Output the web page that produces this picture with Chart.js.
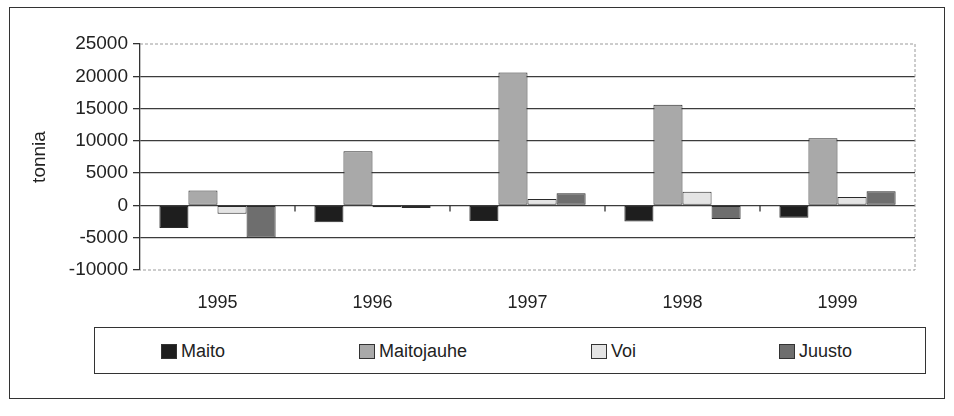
<!DOCTYPE html>
<html>
<head>
<meta charset="utf-8">
<script src="https://cdn.jsdelivr.net/npm/chart.js@4/dist/chart.umd.min.js"></script>
<style>
  html, body { margin: 0; padding: 0; background: #fff; }
  #wrap { position: relative; width: 954px; height: 416px; overflow: hidden; }
  #frame { position: absolute; left: 9px; top: 7px; width: 936px; height: 392px; border: 1.5px solid #333; box-sizing: border-box; }
  #chart { position: absolute; left: 0; top: 0; }
  #legend {
    position: absolute; left: 94px; top: 327px; width: 832px; height: 47px;
    border: 1.5px solid #333; box-sizing: border-box;
    font-family: "Liberation Sans", Arial, sans-serif; font-size: 18px; color: #222;
  }
  .item { position: absolute; top: 13px; display: flex; align-items: center; }
  .sw { width: 14px; height: 13px; border: 1px solid #333; margin-right: 4px; }
</style>
</head>
<body>
<div id="wrap">
  <div id="frame"></div>
  <canvas id="chart" width="954" height="326"></canvas>
  <div id="legend"></div>
</div>
<script>
const years = ['1995', '1996', '1997', '1998', '1999'];
const seriesNames = ['Maito', 'Maitojauhe', 'Voi', 'Juusto'];
const maito = [-3500, -2600, -2400, -2500, -1900];
const maitojauhe = [2300, 8400, 20600, 15600, 10400];
const voi = [-1300, -300, 1000, 2100, 1300];
const juusto = [-5000, -400, 1900, -2100, 2200];
const yTicks = [25000, 20000, 15000, 10000, 5000, 0, -5000, -10000];

const fills = ['#1e1e1e', '#a9a9a9', '#e4e4e4', '#6e6e6e'];
const legendX = [66, 264, 496, 684]; // left offsets of legend items inside the box
const font = '"Liberation Sans", Arial, sans-serif';

// dashed plot-area border + little ticks on the zero line between categories
const plotFrame = {
    id: 'plotFrame',
    beforeDatasetsDraw(chart) {
        const { ctx, chartArea: a, scales } = chart;
        ctx.save();
        ctx.strokeStyle = '#9a9a9a';
        ctx.lineWidth = 1;
        ctx.setLineDash([3, 2]);
        ctx.beginPath();
        ctx.moveTo(a.left, a.top); ctx.lineTo(a.right, a.top);
        ctx.lineTo(a.right, a.bottom); ctx.lineTo(a.left, a.bottom);
        ctx.stroke();
        ctx.setLineDash([]);
        const y0 = scales.y.getPixelForValue(0);
        ctx.strokeStyle = '#333';
        ctx.lineWidth = 1.3;
        ctx.beginPath();
        for (let i = 1; i < years.length; i++) {
            const x = (scales.x.getPixelForTick(i - 1) + scales.x.getPixelForTick(i)) / 2;
            ctx.moveTo(x, y0); ctx.lineTo(x, y0 + 6);
        }
        ctx.stroke();
        ctx.restore();
    }
};

new Chart(document.getElementById('chart'), {
    type: 'bar',
    data: {
        labels: years,
        datasets: [maito, maitojauhe, voi, juusto].map((d, i) => ({
            label: seriesNames[i],
            data: d,
            backgroundColor: fills[i],
            borderColor: '#2a2a2a',
            borderWidth: 1,
            borderSkipped: false,
            barPercentage: 1,
            categoryPercentage: 0.75
        }))
    },
    options: {
        responsive: false,
        animation: false,
        layout: { padding: { top: 44, right: 39, left: 0, bottom: 0 } },
        plugins: { legend: { display: false }, tooltip: { enabled: false } },
        scales: {
            x: {
                grid: { display: false, drawTicks: false },
                border: { display: false },
                ticks: { padding: 22, color: '#222', font: { family: font, size: 18 } },
                afterFit: (s) => { s.height = 56; }
            },
            y: {
                min: -10000,
                max: 25000,
                afterBuildTicks: (s) => { s.ticks = yTicks.map(v => ({ value: v })); },
                border: { display: true, color: '#333', width: 1.3 },
                grid: {
                    color: (c) => (c.tick && (c.tick.value === 25000 || c.tick.value === -10000)) ? 'rgba(0,0,0,0)' : '#3c3c3c',
                    lineWidth: 1.3,
                    tickColor: '#333',
                    tickLength: 7
                },
                ticks: {
                    padding: 5,
                    color: '#222',
                    font: { family: font, size: 19 },
                    callback: (v) => String(v)
                },
                title: {
                    display: true,
                    text: 'tonnia',
                    color: '#222',
                    padding: { top: 28, bottom: 0 },
                    font: { family: font, size: 19 }
                },
                afterFit: (s) => { s.width = 140; }
            }
        }
    },
    plugins: [plotFrame]
});

// legend box built from the same series lists
const legend = document.getElementById('legend');
seriesNames.forEach((name, i) => {
    const item = document.createElement('div');
    item.className = 'item';
    item.style.left = legendX[i] + 'px';
    item.innerHTML = '<div class="sw" style="background:' + fills[i] + '"></div><span>' + name + '</span>';
    legend.appendChild(item);
});
</script>
</body>
</html>
